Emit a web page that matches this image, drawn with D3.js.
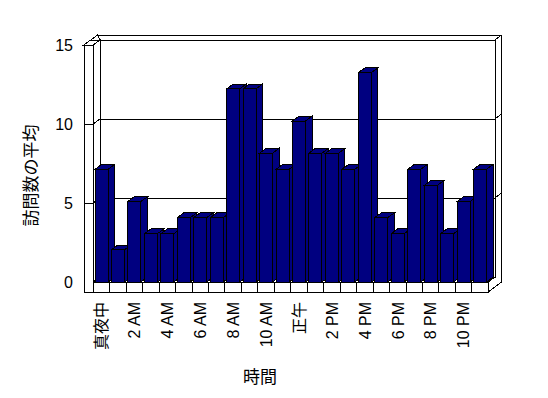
<!DOCTYPE html>
<html><head><meta charset="utf-8">
<script src="https://cdn.jsdelivr.net/npm/d3@7"></script>
<style>
html,body{margin:0;padding:0;background:#fff;}
svg{display:block;}
text{font-family:"Liberation Sans","Noto Sans CJK JP",sans-serif;fill:#000;}
</style></head>
<body><svg id="c" width="548" height="398"></svg>
<script>
const categories = ["真夜中","1 AM","2 AM","3 AM","4 AM","5 AM","6 AM","7 AM","8 AM","9 AM","10 AM","11 AM",
  "正午","1 PM","2 PM","3 PM","4 PM","5 PM","6 PM","7 PM","8 PM","9 PM","10 PM","11 PM"];
const values = [7,2,5,3,3,4,4,4,12,12,8,7,10,8,8,7,13,4,3,7,6,3,5,7];
const tickLabels = ["真夜中","2 AM","4 AM","6 AM","8 AM","10 AM","正午","2 PM","4 PM","6 PM","8 PM","10 PM"];
const yTicks = [0,5,10,15];
const yTitle = "訪問数の平均";
const xTitle = "時間";

const svg = d3.select("#c").attr("shape-rendering","crispEdges");
const XO = 84, XL = 93.3, XR = 488.3, YF = 282, YFB = 292;
const DX = 6.7, DY = 5;          // wall depth unit
const BDX = 6.5, BDY = 4.8;      // bar depth

const yWall = d3.scaleLinear().domain([0,15]).range([YF,45]);
const yBar = d3.scaleLinear().domain([0,15]).range([YF,40.5]);
const xCat = d3.scaleBand().domain(categories).range([XL,XR]).padding(0);
const x = d3.scaleBand().domain(categories).range([XL,XR]).paddingInner(0.21).paddingOuter(0.105);

const line = (pts) => svg.append("path").attr("d", d3.line()(pts))
  .attr("fill","none").attr("stroke","#000").attr("stroke-width",1);
const poly = (pts, fill) => svg.append("path").attr("d", d3.line()(pts)+"Z")
  .attr("fill",fill).attr("stroke","#000").attr("stroke-width",1);

const yTop = yWall(15);
// walls (white)
poly([[XL+DX,yTop-DY],[XR+DX,yTop-DY],[XR+DX,YF-DY],[XL+DX,YF-DY]],"#fff");
poly([[XL,yTop],[XL+DX,yTop-DY],[XL+DX,YF-DY],[XL,YF]],"#fff");
poly([[XO,yTop],[XL,yTop],[XL,YFB],[XO,YFB]],"#fff");
poly([[XO,yTop],[XL,yTop],[XL+DX,yTop-DY],[XO+2*DX,yTop-2*DY]],"#fff");
line([[XO+DX,yTop-DY],[XR+DX,yTop-DY]]);
line([[XO+2*DX,yTop-2*DY],[XR+2*DX,yTop-2*DY]]);
line([[XR+DX,yTop-DY],[XR+2*DX,yTop-2*DY]]);
line([[XR+DX,yTop-DY],[XR+DX,YF-DY]]);
line([[XR+2*DX,yTop-2*DY],[XR+2*DX,YFB-2*DY]]);

// gridlines
yTicks.filter(v => v>0 && v<15).forEach(v => {
  const yy = yWall(v);
  line([[XO,yy],[XL,yy],[XL+DX,yy-DY],[XR+DX,yy-DY],[XR+2*DX,yy-2*DY]]);
});

// floor
poly([[XL,YF],[XR,YF],[XR,YFB],[XL,YFB]],"#fff");
line([[XO,YFB],[XL,YFB]]);
line([[XR,YFB],[XR+2*DX,YFB-2*DY]]);
line([[XR,YF],[XR+DX,YF-DY]]);
categories.forEach((c,i) => { if (i>0) line([[xCat(c),YF],[xCat(c),YFB]]); });

// bars
const bw = x.bandwidth();
categories.forEach((c,i) => {
  const v = values[i];
  const x0 = x(c), x1 = x0 + bw, yt = yBar(v), yb = YF;
  const g = svg.append("g");
  g.append("path").attr("d", d3.line()([[x1,yt],[x1+BDX,yt-BDY],[x1+BDX,yb-BDY],[x1,yb]])+"Z")
    .attr("fill","#000080").attr("stroke","#000");
  g.append("path").attr("d", d3.line()([[x0,yt],[x1,yt],[x1+BDX,yt-BDY],[x0+BDX,yt-BDY]])+"Z")
    .attr("fill","#000080").attr("stroke","#000");
  g.append("rect").attr("x",x0).attr("y",yt).attr("width",bw).attr("height",yb-yt)
    .attr("fill","#000080").attr("stroke","#000");
});

// y tick labels
svg.append("g").selectAll("text").data(yTicks).join("text")
  .attr("x",73).attr("y",d=>yWall(d)).attr("dy","0.36em")
  .attr("text-anchor","end").style("font-size","16px").text(d=>d);

// x tick labels
svg.append("g").selectAll("text").data(tickLabels).join("text")
  .attr("transform", d => `translate(${xCat(d)+xCat.bandwidth()/2},302) rotate(-90)`)
  .attr("text-anchor","end").attr("dy","0.36em").style("font-size","16px").text(d=>d);

// titles
svg.append("text").attr("transform","translate(30.5,175.5) rotate(-90)")
  .attr("text-anchor","middle").attr("dy","0.36em").style("font-size","17px").text(yTitle);
svg.append("text").attr("x",260).attr("y",377).attr("dy","0.36em")
  .attr("text-anchor","middle").style("font-size","17px").text(xTitle);
</script></body></html>
